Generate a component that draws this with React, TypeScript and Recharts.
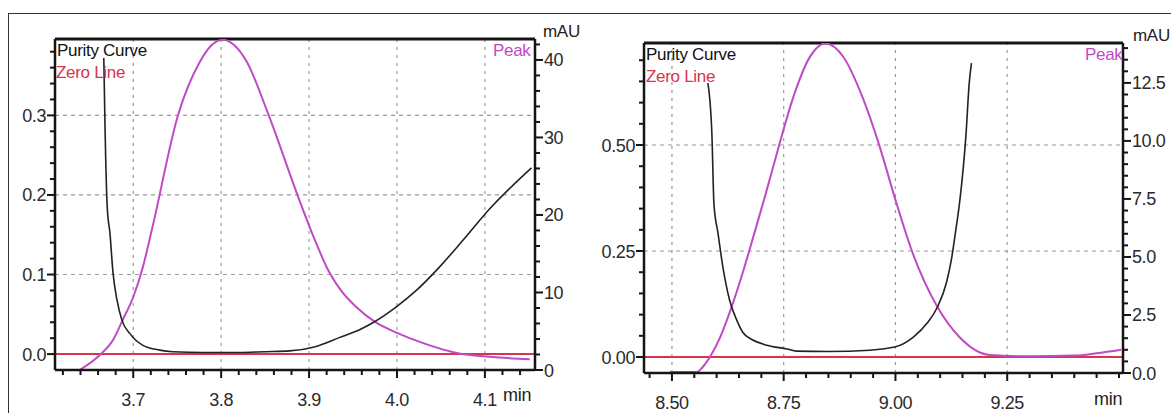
import React from 'react';
import {
  ComposedChart, Line, XAxis, YAxis, ReferenceLine,
} from 'recharts';

// ---- left panel (3.6 - 4.15 min) ----
const purityTimeA = [3.6665, 3.668, 3.6704, 3.6735, 3.677, 3.6815, 3.687, 3.696, 3.711, 3.73, 3.745, 3.78, 3.82, 3.85, 3.878, 3.906, 3.935, 3.958, 3.975, 4.0, 4.022, 4.048, 4.075, 4.105, 4.153];
const purityA = [0.372, 0.28, 0.185, 0.152, 0.102, 0.068, 0.043, 0.026, 0.011, 0.005, 0.003, 0.002, 0.002, 0.003, 0.004, 0.009, 0.021, 0.031, 0.041, 0.06, 0.08, 0.109, 0.143, 0.182, 0.234];
const peakTimeA = [3.639, 3.662, 3.677, 3.688, 3.7, 3.711, 3.722, 3.751, 3.776, 3.789, 3.802, 3.815, 3.829, 3.852, 3.889, 3.905, 3.923, 3.938, 3.954, 3.975, 4.0, 4.029, 4.068, 4.105, 4.151];
const peakA = [0, 1.94, 3.87, 6.45, 9.42, 13.3, 18.5, 32.9, 39.8, 41.9, 42.6, 41.9, 39.8, 33.5, 21.9, 17.2, 12.6, 10.0, 8.1, 6.2, 4.8, 3.5, 2.2, 1.7, 1.4];
const xTicksA = [3.7, 3.8, 3.9, 4.0, 4.1];
const xLabelsA = ['3.7', '3.8', '3.9', '4.0', '4.1'];
const leftTicksA = [0, 0.1, 0.2, 0.3];
const leftLabelsA = ['0.0', '0.1', '0.2', '0.3'];
const rightTicksA = [0, 10, 20, 30, 40];
const rightLabelsA = ['0', '10', '20', '30', '40'];

// ---- right panel (8.44 - 9.51 min) ----
const purityTimeB = [8.5804, 8.5893, 8.594, 8.603, 8.614, 8.629, 8.645, 8.658, 8.681, 8.712, 8.757, 8.779, 8.85, 8.942, 9.0, 9.04, 9.071, 9.094, 9.114, 9.125, 9.136, 9.143, 9.158, 9.165, 9.17];
const purityB = [0.646, 0.528, 0.36, 0.292, 0.212, 0.134, 0.087, 0.059, 0.04, 0.028, 0.019, 0.014, 0.013, 0.016, 0.024, 0.047, 0.08, 0.118, 0.175, 0.229, 0.307, 0.36, 0.528, 0.646, 0.693];
const peakTimeB = [8.4955, 8.556, 8.569, 8.585, 8.607, 8.629, 8.658, 8.681, 8.708, 8.741, 8.77, 8.808, 8.843, 8.882, 8.926, 8.964, 9.0, 9.036, 9.094, 9.143, 9.21, 9.3, 9.4, 9.45, 9.505];
const peakB = [0.04, 0.04, 0.26, 0.69, 1.5, 2.6, 4.3, 5.8, 7.6, 9.9, 11.8, 13.6, 14.2, 13.66, 11.9, 9.8, 7.46, 5.3, 2.84, 1.55, 0.78, 0.72, 0.75, 0.85, 1.0];
const xTicksB = [8.5, 8.75, 9.0, 9.25];
const xLabelsB = ['8.50', '8.75', '9.00', '9.25'];
const leftTicksB = [0, 0.25, 0.5];
const leftLabelsB = ['0.00', '0.25', '0.50'];
const rightTicksB = [0, 2.5, 5, 7.5, 10, 12.5];
const rightLabelsB = ['0.0', '2.5', '5.0', '7.5', '10.0', '12.5'];

const FONT = '"Liberation Sans", Arial, sans-serif';
const AXIS = '#151515';
const PEAK = '#c04ac4';
const ZERO = '#d8344a';
const GRID = '#9a9a9a';
const Y_W = 40;
const X_H = 30;

const toRows = (t: number[], v: number[]) => t.map((x, i) => ({ t: x, v: v[i] }));

// minor tick positions between domain limits
function steps(from: number, to: number, step: number) {
  const out: number[] = [];
  for (let i = 0; from + i * step <= to + 1e-9; i++) out.push(+(from + i * step).toFixed(4));
  return out;
}

function labelFor(v: number, majors: number[], labels: string[]) {
  const i = majors.findIndex((m) => Math.abs(m - v) < 1e-6);
  return i >= 0 ? labels[i] : null;
}

function makeTick(side: 'left' | 'right' | 'bottom', majors: number[], labels: string[]) {
  // eslint-disable-next-line @typescript-eslint/no-explicit-any
  return (props: any) => {
    const { x, y, payload } = props;
    const lab = labelFor(payload.value, majors, labels);
    const len = lab ? 8 : 5;
    const textStyle = { fontFamily: FONT, fontSize: 18, fill: '#2a2a2a', letterSpacing: -0.4 };
    if (side === 'bottom') {
      return (
        <g>
          <line x1={x} x2={x} y1={y} y2={y + len} stroke={AXIS} strokeWidth={2} />
          {lab && <text x={x} y={y + 36} textAnchor="middle" style={textStyle}>{lab}</text>}
        </g>
      );
    }
    const dir = side === 'left' ? -1 : 1;
    return (
      <g>
        <line x1={x} x2={x + dir * len} y1={y} y2={y} stroke={AXIS} strokeWidth={2} />
        {lab && (
          <text x={x + dir * 9} y={y + 6.5} textAnchor={side === 'left' ? 'end' : 'start'} style={textStyle}>
            {lab}
          </text>
        )}
      </g>
    );
  };
}

interface PanelProps {
  width: number;
  plot: { top: number; right: number; bottom: number; left: number };
  xDomain: [number, number];
  leftDomain: [number, number];
  rightDomain: [number, number];
  xMinor: number[];
  leftMinor: number[];
  rightMinor: number[];
  xMajor: number[];
  xLabels: string[];
  leftMajor: number[];
  leftLabels: string[];
  rightMajor: number[];
  rightLabels: string[];
  purity: { t: number; v: number }[];
  peak: { t: number; v: number }[];
}

function Panel(p: PanelProps) {
  const margin = {
    top: p.plot.top,
    left: p.plot.left - Y_W,
    right: p.plot.right - Y_W,
    bottom: p.plot.bottom - X_H,
  };
  return (
    <ComposedChart width={p.width} height={413} margin={margin}>
      <XAxis
        dataKey="t"
        type="number"
        domain={p.xDomain}
        allowDataOverflow
        ticks={p.xMinor}
        interval={0}
        height={X_H}
        tickSize={0}
        tickMargin={0}
        tickLine={false}
        axisLine={{ stroke: AXIS, strokeWidth: 2.5 }}
        tick={makeTick('bottom', p.xMajor, p.xLabels)}
      />
      <YAxis
        yAxisId="left"
        type="number"
        domain={p.leftDomain}
        allowDataOverflow
        ticks={p.leftMinor}
        interval={0}
        width={Y_W}
        tickSize={0}
        tickMargin={0}
        tickLine={false}
        axisLine={{ stroke: AXIS, strokeWidth: 2.5 }}
        tick={makeTick('left', p.leftMajor, p.leftLabels)}
      />
      <YAxis
        yAxisId="right"
        orientation="right"
        type="number"
        domain={p.rightDomain}
        allowDataOverflow
        ticks={p.rightMinor}
        interval={0}
        width={Y_W}
        tickSize={0}
        tickMargin={0}
        tickLine={false}
        axisLine={{ stroke: AXIS, strokeWidth: 2.5 }}
        tick={makeTick('right', p.rightMajor, p.rightLabels)}
      />
      {/* dashed grid at the major ticks */}
      {p.xMajor.map((v) => (
        <ReferenceLine key={'gx' + v} x={v} yAxisId="left" stroke={GRID} strokeDasharray="3 5" strokeWidth={1.2} />
      ))}
      {p.leftMajor.filter((v) => v > 0).map((v) => (
        <ReferenceLine key={'gy' + v} y={v} yAxisId="left" stroke={GRID} strokeDasharray="4 4" strokeWidth={1.2} />
      ))}
      {/* frame top */}
      <ReferenceLine y={p.leftDomain[1]} yAxisId="left" stroke={AXIS} strokeWidth={3} />
      {/* zero line */}
      <ReferenceLine y={0} yAxisId="left" stroke={ZERO} strokeWidth={2} />
      <Line
        yAxisId="right"
        data={p.peak}
        dataKey="v"
        type="monotone"
        stroke={PEAK}
        strokeWidth={2}
        dot={false}
        isAnimationActive={false}
      />
      <Line
        yAxisId="left"
        data={p.purity}
        dataKey="v"
        type="monotone"
        stroke="#222"
        strokeWidth={1.6}
        dot={false}
        isAnimationActive={false}
      />
    </ComposedChart>
  );
}

const txt = (left: number, top: number, color: string, size = 15): React.CSSProperties => ({
  position: 'absolute', left, top, color, fontFamily: FONT, fontSize: size, lineHeight: 1, whiteSpace: 'nowrap', letterSpacing: -0.3,
});

export default function App() {
  return (
    <div style={{ position: 'absolute', left: 0, top: 0, width: 1171, height: 413, background: '#fff', overflow: 'hidden' }}>
      <div style={{ position: 'absolute', left: 8, top: 13, width: 1170, height: 410, borderTop: '1.5px solid #333', borderLeft: '1.5px solid #333' }} />
      <div style={{ position: 'absolute', left: 0, top: 0 }}>
        <Panel
          width={590}
          plot={{ top: 39, right: 55, bottom: 43, left: 55 }}
          xDomain={[3.611, 4.157]}
          leftDomain={[-0.02, 0.396]}
          rightDomain={[0, 42.7]}
          xMinor={steps(3.62, 4.14, 0.02)}
          leftMinor={steps(0, 0.38, 0.02)}
          rightMinor={steps(0, 42, 2)}
          xMajor={xTicksA}
          xLabels={xLabelsA}
          leftMajor={leftTicksA}
          leftLabels={leftLabelsA}
          rightMajor={rightTicksA}
          rightLabels={rightLabelsA}
          purity={toRows(purityTimeA, purityA)}
          peak={toRows(peakTimeA, peakA)}
        />
      </div>
      <div style={{ position: 'absolute', left: 590, top: 0 }}>
        <Panel
          width={581}
          plot={{ top: 43, right: 48, bottom: 40, left: 54 }}
          xDomain={[8.4375, 9.509]}
          leftDomain={[-0.0377, 0.7406]}
          rightDomain={[0, 14.22]}
          xMinor={steps(8.45, 9.5, 0.05)}
          leftMinor={steps(0, 0.7, 0.05)}
          rightMinor={steps(0, 14, 0.5)}
          xMajor={xTicksB}
          xLabels={xLabelsB}
          leftMajor={leftTicksB}
          leftLabels={leftLabelsB}
          rightMajor={rightTicksB}
          rightLabels={rightLabelsB}
          purity={toRows(purityTimeB, purityB)}
          peak={toRows(peakTimeB, peakB)}
        />
      </div>
      {/* legend texts and units */}
      <div style={txt(57, 42, '#111', 17)}>Purity Curve</div>
      <div style={txt(56, 64, ZERO, 17)}>Zero Line</div>
      <div style={txt(493, 42, PEAK, 17)}>Peak</div>
      <div style={txt(543, 23, '#222', 17)}>mAU</div>
      <div style={txt(503, 386, '#222', 18)}>min</div>
      <div style={txt(646, 46, '#111', 17)}>Purity Curve</div>
      <div style={txt(646, 68, ZERO, 17)}>Zero Line</div>
      <div style={txt(1085, 46, PEAK, 17)}>Peak</div>
      <div style={txt(1133, 27, '#222', 17)}>mAU</div>
      <div style={txt(1094, 390, '#222', 18)}>min</div>
    </div>
  );
}
